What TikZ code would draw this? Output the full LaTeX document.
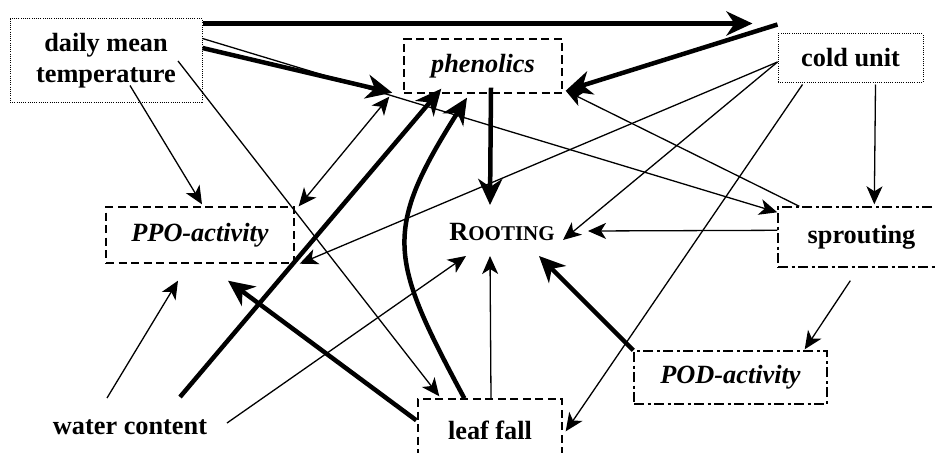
\documentclass[tikz,border=0pt]{standalone}
\usepackage{fontspec}
\setmainfont{Liberation Serif}
\usetikzlibrary{arrows.meta,calc}
\tikzset{
  lbl/.style={font=\fontsize{26.3}{31}\selectfont\bfseries, inner sep=0pt, align=center},
  ilbl/.style={font=\fontsize{26.3}{31}\selectfont\bfseries\itshape, inner sep=0pt},
  dotbox/.style={draw, line width=1pt, dash pattern=on 1pt off 1.2pt},
  dashbox/.style={draw, line width=1.4pt, dash pattern=on 8pt off 4.5pt},
  dotdashbox/.style={draw, line width=1.4pt, dash pattern=on 10pt off 3.5pt on 3pt off 3.5pt},
  thinarr/.style={line width=1.3pt, -{Stealth[length=18pt,width=16pt,inset=5pt]}},
  thinboth/.style={line width=1.3pt, {Stealth[length=18pt,width=16pt,inset=5pt]}-{Stealth[length=18pt,width=16pt,inset=5pt]}},
  thickarr/.style={line width=4.5pt, -{Stealth[length=26pt,width=24pt,inset=8pt]}},
}
\begin{document}
\begin{tikzpicture}[x=1pt,y=-1pt]
\useasboundingbox (0,0) rectangle (936,452);
\fill[white] (0,0) rectangle (936,452);
\clip (0,0) rectangle (936,452);

% nodes
\node[lbl, dotbox, minimum width=192pt, minimum height=83pt] (dmt) at (106,60.5) {daily mean\\temperature};
\node[ilbl, dashbox, minimum width=158pt, minimum height=54pt] (phen) at (483,66) {phenolics};
\node[lbl, dotbox, minimum width=145pt, minimum height=48pt] (cold) at (850.5,58) {cold unit};
\node[ilbl, dashbox, minimum width=188pt, minimum height=56pt] (ppo) at (200,235) {PPO-activity};
\node[lbl] (root) at (502,232) {R\fontsize{21}{25}\selectfont OOTING};
\node[lbl, dotdashbox, minimum width=167pt, minimum height=60pt] (sprout) at (861.5,237) {sprouting};
\node[ilbl, dotdashbox, minimum width=193pt, minimum height=53pt] (pod) at (730.5,377.5) {POD-activity};
\node[lbl, dashbox, minimum width=144pt, minimum height=62pt] (leaf) at (490,430) {leaf fall};
\node[lbl] (water) at (130,427) {water content};

\coordinate (topend) at ($(cold.north west)+(-25,-10)$);

% thick arrows
\draw[thickarr] ($(dmt.north east)+(0,5)$) -- (topend);
\draw[thickarr] ($(cold.north west)+(0,-9)$) -- ($(phen.south east)+(3,-3)$);
\draw[thickarr] ($(dmt.east)+(0,-12.5)$) -- ($(phen.south west)+(-11,-1)$);
\draw[thickarr] ($(water.center)+(50,-30)$) -- ($(phen.south west)+(38,-5)$);
\draw[thickarr] ($(leaf.north west)+(47,0)$) .. controls +(-75,-140) and +(-85,134) .. ($(phen.south)+(-16,4)$);
\draw[thickarr] ($(phen.south)+(8,-6)$) -- ($(root.center)+(-12,-27)$);
\draw[thickarr] (pod.north west) -- ($(root.center)+(37,24)$);
\draw[thickarr] ($(leaf.north west)+(-1,22)$) -- ($(ppo.south)+(28,17)$);

% thin arrows
\draw[thinarr] ($(dmt.north east)+(0,20)$) -- ($(sprout.north west)+(0,6)$);
\draw[thinarr] ($(dmt.south)+(24,-17)$) -- ($(ppo.north)+(2,-2)$);
\draw[thinarr] ($(dmt.center)+(72,0.5)$) -- ($(leaf.north west)+(22,-2)$);
\draw[thinarr] ($(cold.west)+(0,4)$) -- ($(ppo.south east)+(5,0)$);
\draw[thinarr] ($(cold.west)+(0,4)$) -- ($(root.center)+(61,8)$);
\draw[thinarr] ($(cold.south west)+(25,2)$) -- ($(leaf.north east)+(3,33)$);
\draw[thinarr] ($(cold.south east)+(-48,2)$) -- ($(sprout.north west)+(97,-2)$);
\draw[thinarr] ($(sprout.north west)+(0,24)$) -- ($(root.center)+(86,-1)$);
\draw[thinarr] ($(sprout.north west)+(22,0)$) -- ($(phen.south east)+(3,-3)$);
\draw[thinarr] ($(sprout.south west)+(73,13)$) -- ($(pod.north east)+(-23,-1)$);
\draw[thinarr] ($(leaf.north)+(1,0)$) -- ($(root.center)+(-12,24)$);
\draw[thinarr] ($(water.center)+(-23,-29)$) -- ($(ppo.south)+(-22,17)$);
\draw[thinarr] ($(water.center)+(97,-4)$) -- ($(root.center)+(-36,24)$);
\draw[thinboth] ($(ppo.north east)+(4,0)$) -- ($(phen.south west)+(-14,3)$);
\end{tikzpicture}
\end{document}
